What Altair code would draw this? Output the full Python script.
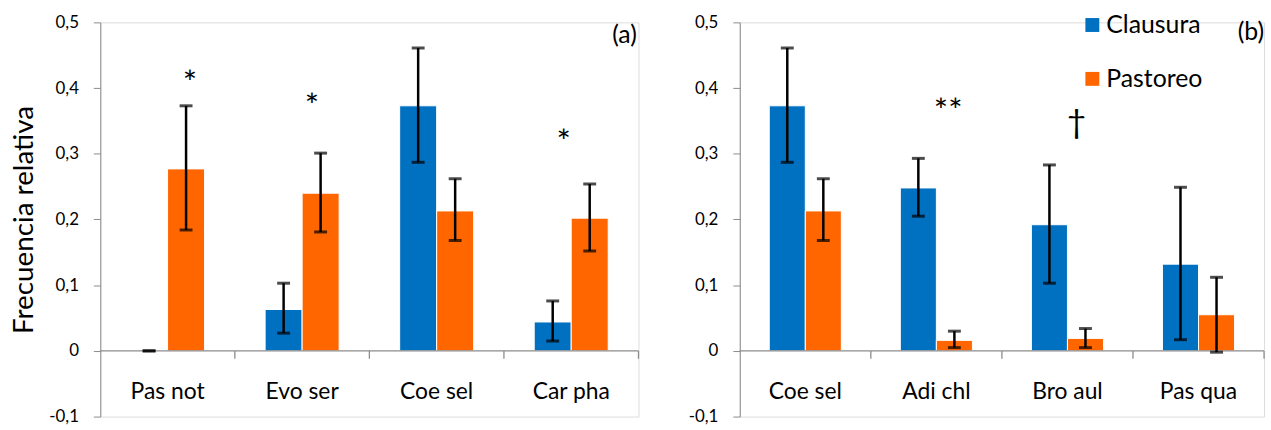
import altair as alt
import pandas as pd

series = ["Clausura", "Pastoreo"]
colors = ["#0070C0", "#FF6600"]

# Panel (a)
cats_a = ["Pas not", "Evo ser", "Coe sel", "Car pha"]
claus_a = [0.0, 0.063, 0.373, 0.044]
claus_lo_a = [0.0, 0.027, 0.287, 0.015]
claus_hi_a = [0.0, 0.103, 0.461, 0.076]
past_a = [0.277, 0.240, 0.213, 0.202]
past_lo_a = [0.184, 0.181, 0.168, 0.152]
past_hi_a = [0.373, 0.301, 0.262, 0.254]
ann_a = ["*", "*", "*"]
ann_a_x = [0.666, 1.573, 3.444]
ann_a_y = [0.417, 0.381, 0.327]

# Panel (b)
cats_b = ["Coe sel", "Adi chl", "Bro aul", "Pas qua"]
claus_b = [0.373, 0.248, 0.192, 0.132]
claus_lo_b = [0.287, 0.205, 0.103, 0.017]
claus_hi_b = [0.461, 0.293, 0.283, 0.249]
past_b = [0.213, 0.016, 0.019, 0.055]
past_lo_b = [0.168, 0.005, 0.005, -0.002]
past_hi_b = [0.262, 0.030, 0.034, 0.112]
ann_b = ["**", "\u2020"]
ann_b_x = [1.59, 2.57]
ann_b_y = [0.374, 0.358]

# legend placement (panel b data units)
leg_x = 2.69
leg_y = [0.496, 0.414]

yticks = [-0.1, 0, 0.1, 0.2, 0.3, 0.4, 0.5]

FONT = "Lato"
GRAY = "#8c8c8c"
HALF = 0.1375
H = 397


def y_axis(title):
    kw = dict(
        values=yticks,
        labelExpr="datum.value == 0 ? '0' : (datum.value < 0 ? '-' : '') + replace(format(abs(datum.value), '.1f'), '.', ',')",
        grid=False, domainColor=GRAY, tickColor=GRAY, tickSize=7,
        labelFont=FONT, labelFontSize=17, labelColor="black", labelPadding=15,
    )
    if title:
        kw.update(title=title, titleFont=FONT, titleFontSize=28, titleFontWeight="normal",
                  titleColor="black", titlePadding=10)
    else:
        kw.update(title=None)
    return alt.Axis(**kw)


def panel(cats, c, clo, chi, p, plo, phi, ann, ann_x, ann_y, width, label, lab_x, lab_y,
          ytitle, legend=False):
    rows = []
    for i, cat in enumerate(cats):
        rows.append(dict(cat=cat, idx=i, serie=series[0], v=c[i], lo=clo[i], hi=chi[i]))
        rows.append(dict(cat=cat, idx=i, serie=series[1], v=p[i], lo=plo[i], hi=phi[i]))
    df = pd.DataFrame(rows)
    xs = alt.Scale(domain=[0, len(cats)], nice=False, zero=False)
    ys = alt.Scale(domain=[-0.1, 0.5], nice=False, zero=False)
    cs = alt.Scale(domain=series, range=colors)
    yax = y_axis(ytitle)

    base = alt.Chart(df).transform_calculate(
        xc=f"datum.idx + 0.5 + (datum.serie == '{series[0]}' ? -{HALF} : {HALF})"
    ).transform_calculate(
        x0=f"datum.xc - {HALF}", x1=f"datum.xc + {HALF}"
    )
    bars = base.mark_bar(stroke="white", strokeWidth=1).encode(
        x=alt.X("x0:Q", scale=xs, axis=None),
        x2="x1:Q",
        y=alt.Y("v:Q", scale=ys, axis=yax),
        y2=alt.datum(0),
        color=alt.Color("serie:N", scale=cs, legend=None),
    )
    stems = base.mark_rule(color="black", strokeWidth=2.5).encode(
        x=alt.X("xc:Q", scale=xs, axis=None),
        y=alt.Y("lo:Q", scale=ys, axis=yax), y2="hi:Q")
    cap_lo = base.mark_tick(orient="horizontal", size=13, thickness=3, color="black").encode(
        x=alt.X("xc:Q", scale=xs, axis=None), y=alt.Y("lo:Q", scale=ys, axis=yax))
    cap_hi = base.mark_tick(orient="horizontal", size=13, thickness=3, color="black").encode(
        x=alt.X("xc:Q", scale=xs, axis=None), y=alt.Y("hi:Q", scale=ys, axis=yax))

    zero = alt.Chart(pd.DataFrame({"z": [0]})).mark_rule(color=GRAY, strokeWidth=1.3).encode(
        x=alt.datum(0, scale=xs, axis=None), x2=alt.datum(len(cats)),
        y=alt.datum(0, scale=ys, axis=yax))
    bdf = pd.DataFrame({"b": list(range(1, len(cats) + 1))})
    bticks = alt.Chart(bdf).mark_rule(color=GRAY, strokeWidth=1.3).encode(
        x=alt.X("b:Q", scale=xs, axis=None),
        y=alt.datum(0, scale=ys, axis=yax), y2=alt.datum(-0.012))
    cdf = pd.DataFrame({"cat": cats, "idx": list(range(len(cats)))})
    clabels = alt.Chart(cdf).transform_calculate(xm="datum.idx + 0.5").mark_text(
        font=FONT, fontSize=23, color="black", baseline="middle").encode(
        x=alt.X("xm:Q", scale=xs, axis=None), y=alt.datum(-0.063, scale=ys, axis=yax), text="cat:N")
    adf = pd.DataFrame({"t": ann, "x": ann_x, "y": ann_y})
    anns = alt.Chart(adf).mark_text(font=FONT, fontSize=34, color="black", baseline="middle",
                                    dy=7).encode(
        x=alt.X("x:Q", scale=xs, axis=None), y=alt.Y("y:Q", scale=ys, axis=yax), text="t:N")
    ldf = pd.DataFrame({"t": [label], "x": [lab_x], "y": [lab_y]})
    plabel = alt.Chart(ldf).mark_text(font=FONT, fontSize=25, color="black", baseline="middle").encode(
        x=alt.X("x:Q", scale=xs, axis=None), y=alt.Y("y:Q", scale=ys, axis=yax), text="t:N")

    layers = [bars, zero, bticks, stems, cap_lo, cap_hi, clabels, anns, plabel]
    if legend:
        gdf = pd.DataFrame({"serie": series, "y": leg_y})
        lsym = alt.Chart(gdf).mark_square(size=196, opacity=1).encode(
            x=alt.datum(leg_x, scale=xs, axis=None),
            y=alt.Y("y:Q", scale=ys, axis=yax),
            color=alt.Color("serie:N", scale=cs, legend=None))
        ltxt = alt.Chart(gdf).mark_text(font=FONT, fontSize=25, color="black", align="left",
                                        baseline="middle", dx=14).encode(
            x=alt.datum(leg_x, scale=xs, axis=None),
            y=alt.Y("y:Q", scale=ys, axis=yax), text="serie:N")
        layers += [lsym, ltxt]
    return alt.layer(*layers).properties(width=width, height=H)


pa = panel(cats_a, claus_a, claus_lo_a, claus_hi_a, past_a, past_lo_a, past_hi_a,
           ann_a, ann_a_x, ann_a_y, 542, "(a)", 3.896, 0.480, "Frecuencia relativa")
pb = panel(cats_b, claus_b, claus_lo_b, claus_hi_b, past_b, past_lo_b, past_hi_b,
           ann_b, ann_b_x, ann_b_y, 528, "(b)", 3.90, 0.486, None, legend=True)

chart = alt.hconcat(pa, pb, spacing=47).properties(
    padding={"left": 10, "top": 11, "right": 5, "bottom": 5}
).configure_view(stroke=None).configure(background="white")

chart.save("out.html", embed_options={"renderer": "svg", "actions": False})
